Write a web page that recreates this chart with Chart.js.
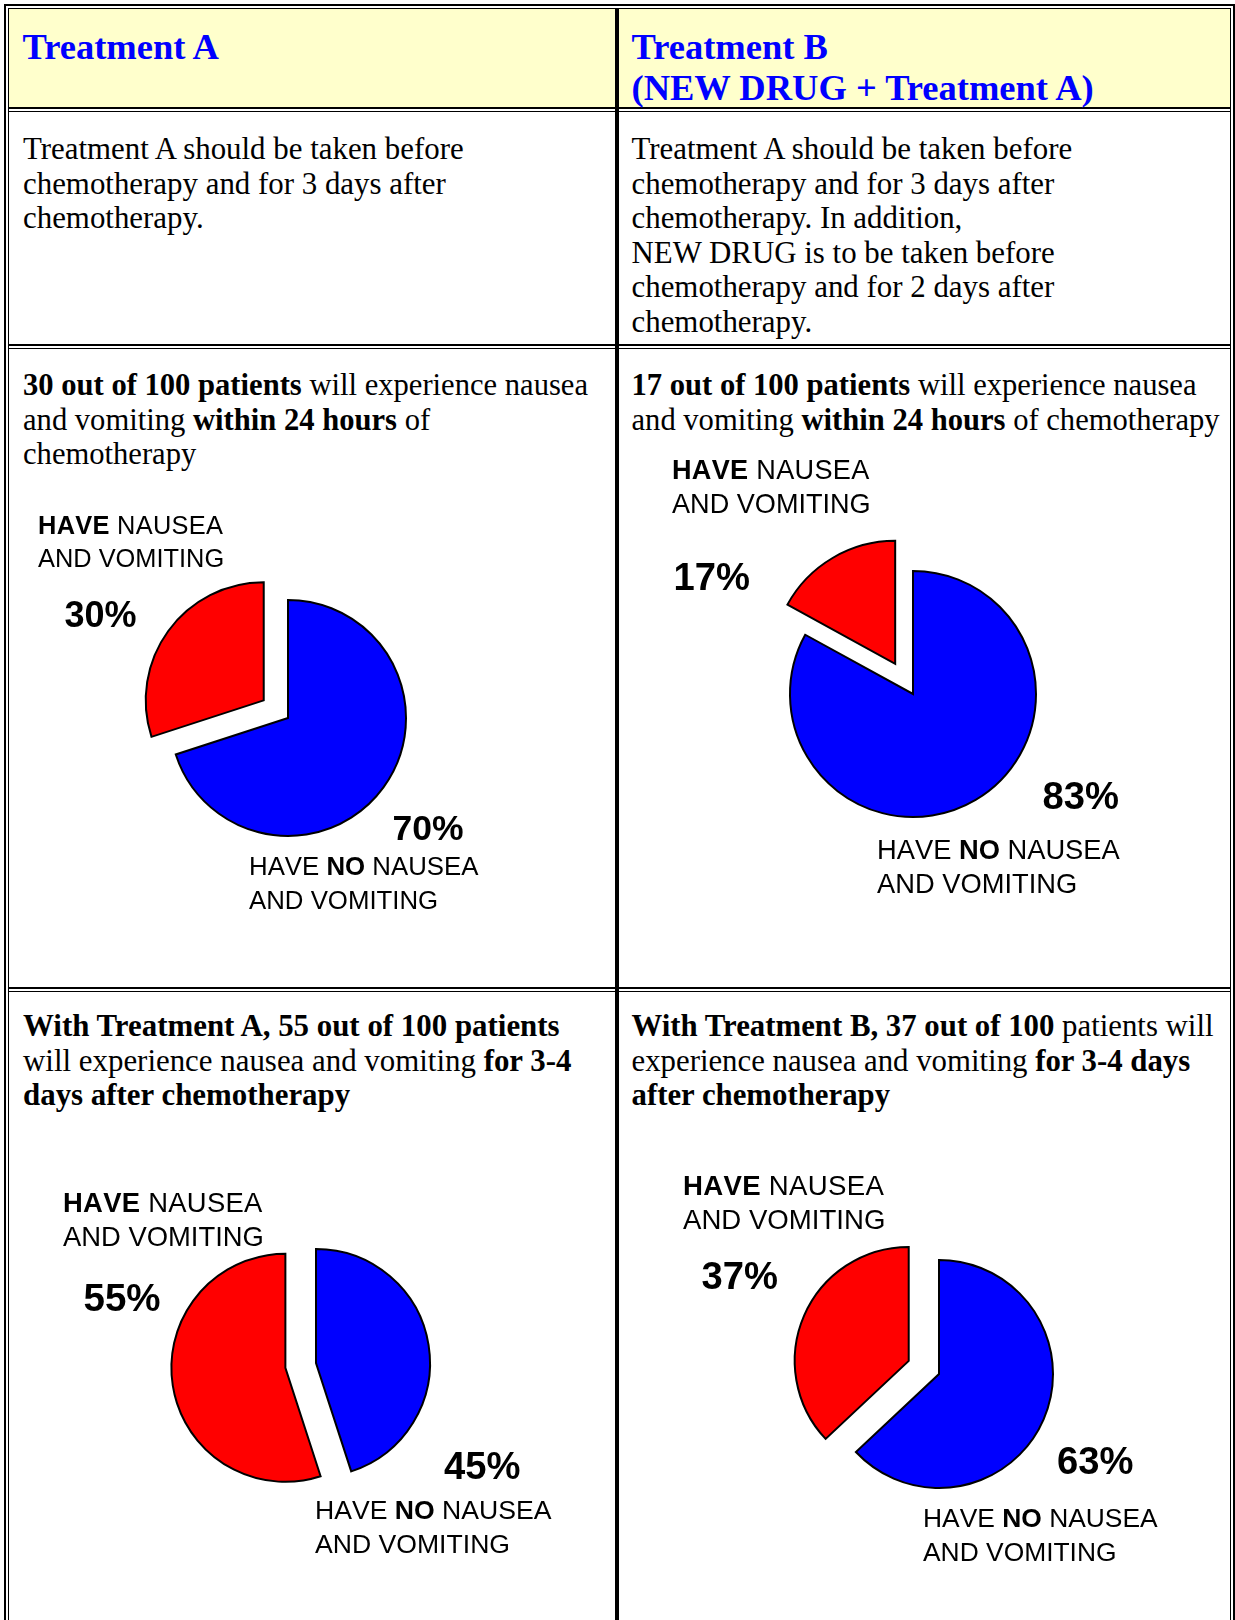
<!DOCTYPE html>
<html>
<head>
<meta charset="utf-8">
<script src="https://cdn.jsdelivr.net/npm/chart.js@4.4.1/dist/chart.umd.min.js"></script>
<style>
  html, body { margin: 0; padding: 0; background: #fff; }
  #page { position: relative; width: 1235px; height: 1620px; overflow: hidden; }
  .ln { position: absolute; background: #000; }
  .hdr { position: absolute; background: #ffffcc; }
  .txt { position: absolute; white-space: nowrap; z-index: 2; color: #000; }
  .serif { font-family: "Liberation Serif", "Times New Roman", serif; }
  .head { font-family: "Liberation Serif", "Times New Roman", serif; font-weight: bold; color: #0000ff; }
  .sans { font-family: "Liberation Sans", Arial, sans-serif; font-kerning: none; }
  .sans.pct { font-weight: bold; }
  .wide { letter-spacing: 0.3px; }
  canvas { position: absolute; z-index: 1; }
</style>
</head>
<body>
<div id="page"></div>
<script>
// slice order: "no nausea" first (blue, starts at 12 o'clock), then "nausea" (red, exploded)
const sliceLabels = ['Have no nausea and vomiting', 'Have nausea and vomiting'];
const sliceColors = ['#0000ff', '#ff0000'];

const within24hA = [70, 30];
const within24hB = [83, 17];
const days34A = [45, 55];
const days34B = [63, 37];

const page = document.getElementById('page');

// ascent / descent of the fonts, used to put the first baseline where wanted
const metrics = {serif: [0.891, 0.216], head: [0.891, 0.216], sans: [0.905, 0.212]};

function put(html, cls, x, baseline, fs, lh) {
    const el = document.createElement('div');
    el.className = 'txt ' + cls;
    el.innerHTML = html;
    const [a, d] = metrics[cls.split(' ')[0]];
    const off = (lh - (a + d) * fs) / 2 + a * fs;
    el.style.fontSize = fs + 'px';
    el.style.lineHeight = lh + 'px';
    el.style.left = x + 'px';
    el.style.top = (baseline - off) + 'px';
    page.appendChild(el);
}

function box(cls, x, y, w, h) {
    const el = document.createElement('div');
    el.className = cls;
    el.style.left = x + 'px';
    el.style.top = y + 'px';
    el.style.width = w + 'px';
    el.style.height = h + 'px';
    page.appendChild(el);
}

// table frame
box('hdr', 9, 9, 1222, 98);
box('ln', 4, 4, 1231, 2);
box('ln', 8, 8, 1223, 1);
box('ln', 4, 4, 2, 1616);
box('ln', 8, 8, 1, 1612);
box('ln', 1233, 4, 2, 1616);
box('ln', 1230, 8, 1, 1612);
[107, 344, 987].forEach(y => {
    box('ln', 8, y, 1223, 2);
    box('ln', 8, y + 4, 1223, 1);
});
box('ln', 615, 8, 4, 1612);

// texts
const bodyFs = 30.9, bodyLh = 34.5;
put('Treatment A', 'head', 22.5, 59.3, 36.5, 41);
put('Treatment B<br>(NEW DRUG + Treatment A)', 'head', 631.5, 59.3, 36.5, 41);

put('Treatment A should be taken before<br>chemotherapy and for 3 days after<br>chemotherapy.', 'serif', 23, 160, bodyFs, bodyLh);
put('Treatment A should be taken before<br>chemotherapy and for 3 days after<br>chemotherapy. In addition,<br>NEW DRUG is to be taken before<br>chemotherapy and for 2 days after<br>chemotherapy.', 'serif', 631.5, 160, bodyFs, bodyLh);

put('<b>30 out of 100 patients</b> will experience nausea<br>and vomiting <b>within 24 hours</b> of<br>chemotherapy', 'serif', 23, 396, 30.6, bodyLh);
put('<b>17 out of 100 patients</b> will experience nausea<br>and vomiting <b>within 24 hours</b> of chemotherapy', 'serif', 631.5, 396, 30.6, bodyLh);

put('<b>With Treatment A, 55 out of 100 patients</b><br>will experience nausea and vomiting <b>for 3-4</b><br><b>days after chemotherapy</b>', 'serif', 23, 1037, bodyFs, bodyLh);
put('<b>With Treatment B, 37 out of 100</b> patients will<br>experience nausea and vomiting <b>for 3-4 days</b><br><b>after chemotherapy</b>', 'serif', 631.5, 1037, 30.8, bodyLh);

const haveLabel = '<span class="wide"><b>HAVE</b> NAUSEA</span><br>AND VOMITING';
const noLabel = 'HAVE <b>NO</b> NAUSEA<br>AND VOMITING';

// pulls the red slice out of the pie along its middle angle
const explodePlugin = {
    id: 'explode',
    afterDatasetUpdate(chart, args, opts) {
        const dist = opts.distance || [];
        args.meta.data.forEach((arc, i) => {
            const d = dist[i] || 0;
            if (!d) return;
            const mid = (arc.startAngle + arc.endAngle) / 2;
            arc.x += Math.cos(mid) * d;
            arc.y += Math.sin(mid) * d;
        });
    }
};

function createPie(cx, cy, radius, data, explode) {
    const size = 380;
    const canvas = document.createElement('canvas');
    canvas.width = size;
    canvas.height = size;
    canvas.style.left = (cx - size / 2) + 'px';
    canvas.style.top = (cy - size / 2) + 'px';
    page.appendChild(canvas);
    return new Chart(canvas, {
        type: 'pie',
        data: {
            labels: sliceLabels,
            datasets: [{
                data: data,
                backgroundColor: sliceColors,
                borderColor: '#000',
                borderWidth: 2,
                borderJoinStyle: 'miter'
            }]
        },
        options: {
            responsive: false,
            animation: false,
            devicePixelRatio: 1,
            events: [],
            radius: radius,
            layout: {padding: 0},
            plugins: {
                legend: {display: false},
                tooltip: {enabled: false},
                explode: {distance: explode}
            }
        },
        plugins: [explodePlugin]
    });
}

function pct(v) {
    return v + '%';
}

// within 24 hours, treatment A
createPie(288, 718, 118, within24hA, [0, 30]);
put(haveLabel, 'sans', 38, 534, 25.4, 33);
put(pct(within24hA[1]), 'sans pct', 64.5, 627, 36, 42);
put(pct(within24hA[0]), 'sans pct', 392.5, 840, 35.5, 42);
put(noLabel, 'sans', 249, 875, 25.8, 34);

// within 24 hours, treatment B
createPie(913, 694, 123, within24hB, [0, 35]);
put(haveLabel, 'sans', 672, 479, 27.1, 34);
put(pct(within24hB[1]), 'sans pct', 673.5, 590, 38.2, 44);
put(pct(within24hB[0]), 'sans pct', 1042.5, 809.5, 38.2, 44);
put(noLabel, 'sans', 877, 859.3, 27.3, 34);

// 3-4 days, treatment A
createPie(316, 1363, 114, days34A, [0, 31]);
put(haveLabel, 'sans', 63, 1212.8, 27.4, 34);
put(pct(days34A[1]), 'sans pct', 83.5, 1311.8, 38.5, 44);
put(pct(days34A[0]), 'sans pct', 444, 1479, 38.2, 44);
put(noLabel, 'sans', 315, 1519.5, 26.6, 34);

// 3-4 days, treatment B
createPie(939, 1374, 114, days34B, [0, 33]);
put(haveLabel, 'sans', 683, 1195.4, 27.6, 34);
put(pct(days34B[1]), 'sans pct', 701.5, 1289, 38.2, 44);
put(pct(days34B[0]), 'sans pct', 1057, 1474, 38.2, 44);
put(noLabel, 'sans', 923, 1526.7, 26.4, 34);
</script>
</body>
</html>
